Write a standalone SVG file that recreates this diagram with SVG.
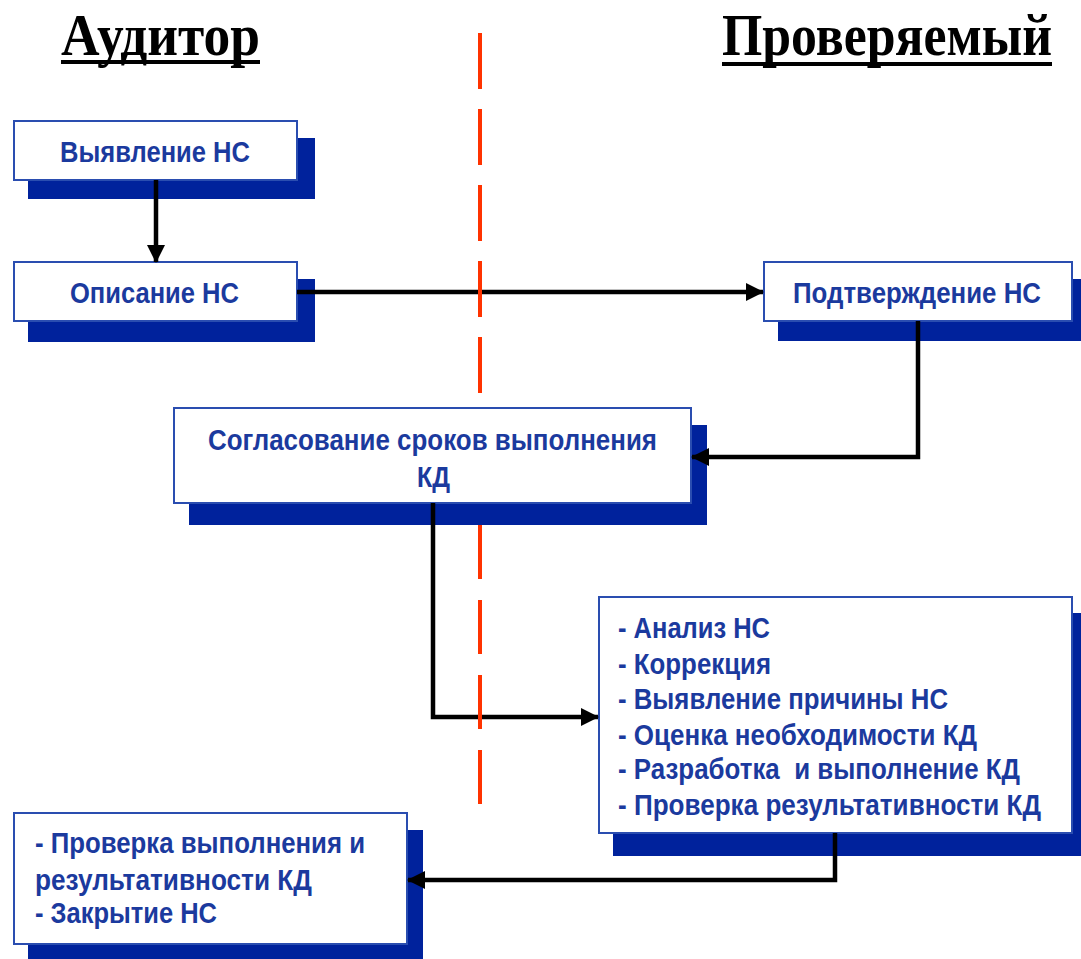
<svg xmlns="http://www.w3.org/2000/svg" width="1081" height="959" viewBox="0 0 1081 959">
  <style>
    .shadow { fill: #00229C; }
    .box { fill: #FFFFFF; stroke: #2A4DB0; stroke-width: 2; }
    .lbl { font-family: "Liberation Sans", Arial, sans-serif; font-weight: bold; font-size: 29px; fill: #1B3A9E; }
    .title { font-family: "Liberation Serif", "Times New Roman", serif; font-weight: bold; font-size: 60px; fill: #000000; }
    .conn { fill: none; stroke: #000000; stroke-width: 4.5; stroke-linejoin: miter; }
    .divider { stroke: #FF3300; stroke-width: 4; fill: none; }
  </style>
  <defs>
    <marker id="arrow" viewBox="0 0 18 18" refX="17" refY="9" markerWidth="18" markerHeight="18" markerUnits="userSpaceOnUse" orient="auto">
      <path d="M0,0 L18,9 L0,18 z" fill="#000000"/>
    </marker>
  </defs>
  <rect x="0" y="0" width="1081" height="959" fill="#FFFFFF"/>

  <g id="titles">
    <text class="title" x="61" y="55" textLength="199" lengthAdjust="spacingAndGlyphs">Аудитор</text>
    <rect x="61" y="60" width="199" height="4" fill="#000000"/>
    <text class="title" x="722" y="55" textLength="330" lengthAdjust="spacingAndGlyphs">Проверяемый</text>
    <rect x="722" y="62" width="330" height="4" fill="#000000"/>
  </g>

  <g id="node-vyyavlenie">
    <rect class="shadow" x="28" y="138" width="287" height="61"/>
    <rect class="box" x="14" y="121" width="283" height="59"/>
    <text class="lbl" x="60" y="162" textLength="190" lengthAdjust="spacingAndGlyphs">Выявление НС</text>
  </g>

  <g id="node-opisanie">
    <rect class="shadow" x="28" y="279" width="287" height="63"/>
    <rect class="box" x="14" y="262" width="283" height="59"/>
    <text class="lbl" x="70" y="303" textLength="169" lengthAdjust="spacingAndGlyphs">Описание НС</text>
  </g>

  <g id="node-podtverzhdenie">
    <rect class="shadow" x="778" y="279" width="303" height="62"/>
    <rect class="box" x="764" y="262" width="308" height="59"/>
    <text class="lbl" x="793" y="303" textLength="248" lengthAdjust="spacingAndGlyphs">Подтверждение НС</text>
  </g>

  <g id="node-soglasovanie">
    <rect class="shadow" x="189" y="425" width="518" height="100"/>
    <rect class="box" x="174" y="408" width="517" height="95"/>
    <text class="lbl" x="208" y="450" textLength="449" lengthAdjust="spacingAndGlyphs">Согласование сроков выполнения</text>
    <text class="lbl" x="417" y="487" textLength="33" lengthAdjust="spacingAndGlyphs">КД</text>
  </g>

  <g id="node-analiz">
    <rect class="shadow" x="613" y="613" width="468" height="243"/>
    <rect class="box" x="599" y="597" width="473" height="236"/>
    <text class="lbl" x="618" y="638" textLength="152" lengthAdjust="spacingAndGlyphs">- Анализ НС</text>
    <text class="lbl" x="618" y="674" textLength="153" lengthAdjust="spacingAndGlyphs">- Коррекция</text>
    <text class="lbl" x="618" y="709" textLength="330" lengthAdjust="spacingAndGlyphs">- Выявление причины НС</text>
    <text class="lbl" x="618" y="745" textLength="359" lengthAdjust="spacingAndGlyphs">- Оценка необходимости КД</text>
    <text class="lbl" x="618" y="779" textLength="402" lengthAdjust="spacingAndGlyphs" xml:space="preserve">- Разработка  и выполнение КД</text>
    <text class="lbl" x="618" y="815" textLength="423" lengthAdjust="spacingAndGlyphs">- Проверка результативности КД</text>
  </g>

  <g id="node-zakrytie">
    <rect class="shadow" x="28" y="830" width="395" height="129"/>
    <rect class="box" x="14" y="813" width="393" height="131"/>
    <text class="lbl" x="35" y="853" textLength="330" lengthAdjust="spacingAndGlyphs">- Проверка выполнения и</text>
    <text class="lbl" x="35" y="890" textLength="277" lengthAdjust="spacingAndGlyphs">результативности КД</text>
    <text class="lbl" x="35" y="923" textLength="182" lengthAdjust="spacingAndGlyphs">- Закрытие НС</text>
  </g>

  <g id="connectors">
    <path class="conn" d="M156,180 V262" marker-end="url(#arrow)"/>
    <path class="conn" d="M297,292 H763" marker-end="url(#arrow)"/>
    <path class="conn" d="M918,321 V457 H692" marker-end="url(#arrow)"/>
    <path class="conn" d="M433,503 V717 H598" marker-end="url(#arrow)"/>
    <path class="conn" d="M835,833 V880 H408" marker-end="url(#arrow)"/>
  </g>

  <g id="divider">
    <line class="divider" x1="480" y1="33" x2="480" y2="407" stroke-dasharray="56 20"/>
    <line class="divider" x1="480" y1="525" x2="480" y2="805" stroke-dasharray="54 21"/>
  </g>
</svg>
